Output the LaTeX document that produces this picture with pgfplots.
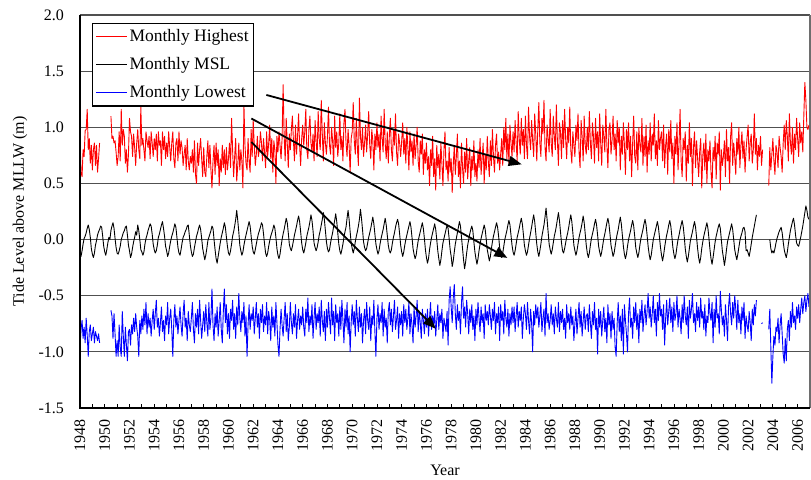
\documentclass[border=0pt]{standalone}
\usepackage{pgfplots}
\pgfplotsset{compat=1.18}
\usepackage{pgfplotstable}
\usepackage{fontspec}
\setmainfont{Liberation Serif}
\usetikzlibrary{arrows.meta}
\definecolor{gridgray}{RGB}{80,80,80}
\definecolor{framegray}{RGB}{110,110,110}

% Monthly highest (m), Jan 1948 - Dec 2006, one row per year
\pgfplotstableread[row sep=\\]{y\\%
0.90\\0.60\\0.56\\0.80\\0.74\\0.97\\0.98\\1.16\\0.80\\0.90\\0.68\\0.84\\%
0.62\\0.80\\0.86\\0.66\\0.84\\0.60\\0.72\\0.86\\nan\\nan\\nan\\nan\\%
nan\\nan\\nan\\nan\\nan\\nan\\1.10\\0.90\\0.92\\0.86\\0.88\\0.78\\%
0.66\\0.74\\0.96\\0.70\\1.16\\0.84\\0.98\\0.92\\0.68\\0.80\\0.60\\0.76\\%
1.08\\0.96\\0.92\\0.74\\0.94\\0.82\\0.66\\0.86\\0.98\\0.80\\0.72\\1.18\\%
0.84\\0.90\\0.80\\0.70\\0.96\\0.88\\0.82\\0.92\\0.72\\0.96\\0.86\\0.74\\%
0.90\\0.80\\0.94\\0.70\\0.96\\0.84\\0.88\\0.66\\0.96\\0.80\\0.92\\0.72\\%
0.86\\0.74\\0.96\\0.82\\0.70\\0.86\\0.96\\0.72\\0.64\\0.86\\0.90\\0.70\\%
0.96\\0.76\\0.88\\0.82\\0.66\\0.76\\0.84\\0.62\\0.90\\0.70\\0.62\\0.74\\%
0.68\\0.80\\0.60\\0.88\\0.58\\0.50\\0.86\\0.66\\0.80\\0.90\\0.72\\0.56\\%
0.82\\0.60\\0.56\\0.74\\0.88\\0.64\\0.84\\0.62\\0.46\\0.70\\0.84\\0.58\\%
0.86\\0.66\\0.80\\0.48\\0.72\\0.60\\0.84\\0.64\\0.80\\0.58\\0.82\\0.62\\%
0.72\\0.86\\0.64\\1.08\\0.80\\0.56\\0.74\\0.90\\0.52\\0.66\\0.86\\0.62\\%
0.80\\0.70\\0.46\\1.20\\0.84\\0.68\\0.62\\0.90\\0.70\\0.60\\0.98\\0.74\\%
1.06\\0.84\\0.66\\0.76\\0.92\\0.74\\0.80\\0.96\\0.86\\0.70\\0.90\\0.78\\%
0.64\\0.96\\0.74\\0.86\\1.02\\0.72\\0.90\\0.60\\0.88\\0.80\\0.50\\0.92\\%
0.78\\0.96\\0.84\\0.72\\0.90\\1.38\\0.92\\0.70\\1.08\\0.86\\0.64\\0.94\\%
0.80\\0.98\\1.10\\0.88\\0.70\\1.02\\0.76\\0.92\\1.12\\0.84\\0.66\\0.90\\%
1.02\\0.84\\0.96\\1.16\\0.80\\0.72\\0.98\\1.10\\0.86\\0.78\\0.94\\0.70\\%
1.06\\0.88\\0.74\\1.14\\0.90\\0.80\\1.24\\0.94\\0.70\\1.04\\0.86\\0.76\\%
0.92\\1.18\\0.84\\0.76\\1.00\\0.88\\0.66\\1.10\\0.82\\0.96\\0.74\\0.86\\%
1.12\\0.80\\0.92\\0.70\\1.04\\1.16\\0.86\\0.74\\0.98\\0.84\\0.60\\0.90\\%
0.96\\1.22\\0.88\\0.76\\1.08\\0.82\\0.66\\1.26\\0.92\\0.80\\1.00\\0.74\\%
0.86\\1.02\\0.78\\0.94\\1.14\\0.84\\0.72\\0.98\\0.88\\0.62\\0.94\\0.80\\%
1.04\\0.82\\0.94\\0.70\\1.10\\0.90\\0.78\\1.16\\0.86\\0.72\\0.96\\0.68\\%
0.92\\1.08\\0.80\\0.70\\0.98\\0.84\\1.12\\0.78\\0.66\\0.94\\0.86\\0.74\\%
0.88\\1.04\\0.76\\0.90\\0.68\\1.00\\0.82\\0.62\\0.96\\0.78\\0.88\\0.66\\%
0.94\\0.72\\0.84\\1.00\\0.70\\0.60\\0.88\\0.76\\0.94\\0.58\\0.80\\0.68\\%
0.86\\0.62\\0.74\\0.48\\0.80\\0.66\\0.92\\0.56\\0.72\\0.44\\0.84\\0.64\\%
0.76\\0.54\\0.86\\0.68\\0.48\\0.80\\0.96\\0.62\\0.70\\0.52\\0.82\\0.60\\%
0.72\\0.42\\0.66\\0.84\\0.58\\0.74\\0.94\\0.56\\0.70\\0.46\\0.86\\0.64\\%
0.50\\0.78\\0.60\\0.90\\0.54\\0.70\\0.82\\0.48\\0.74\\0.62\\0.88\\0.56\\%
0.68\\0.52\\0.80\\0.64\\0.90\\0.58\\0.72\\0.86\\0.50\\0.76\\0.62\\0.92\\%
0.70\\0.56\\0.88\\0.66\\0.98\\0.74\\0.60\\0.84\\0.94\\0.68\\0.78\\0.62\\%
0.76\\0.90\\0.66\\1.00\\0.80\\1.08\\0.72\\0.94\\0.68\\1.02\\0.86\\0.74\\%
0.96\\0.78\\1.06\\0.86\\0.70\\1.14\\0.90\\0.76\\1.08\\0.84\\0.98\\0.72\\%
1.10\\0.84\\0.72\\1.18\\0.92\\0.80\\1.06\\0.88\\0.74\\1.12\\0.94\\0.70\\%
0.98\\1.22\\0.86\\0.74\\1.08\\0.94\\1.24\\0.82\\0.70\\1.02\\0.90\\0.78\\%
1.16\\0.86\\0.74\\1.10\\0.92\\0.80\\1.20\\0.88\\0.66\\1.04\\0.96\\0.72\\%
1.06\\0.82\\1.16\\0.90\\0.72\\1.00\\0.86\\1.18\\0.80\\0.68\\0.96\\0.84\\%
0.74\\1.02\\0.88\\1.12\\0.78\\0.64\\1.06\\0.92\\0.70\\1.10\\0.84\\0.76\\%
1.00\\0.80\\1.14\\0.86\\0.72\\1.04\\0.92\\0.68\\1.08\\0.82\\0.96\\0.70\\%
1.12\\0.86\\0.66\\1.02\\0.92\\0.78\\1.16\\0.84\\0.64\\0.98\\1.04\\0.76\\%
0.88\\1.10\\0.80\\0.94\\0.70\\1.06\\0.86\\1.00\\0.62\\0.92\\0.76\\1.04\\%
0.84\\0.58\\0.98\\0.80\\1.04\\0.70\\0.92\\0.56\\0.86\\1.10\\0.74\\0.68\\%
0.96\\0.62\\1.00\\0.84\\0.78\\1.08\\0.66\\0.92\\0.74\\1.02\\0.60\\0.88\\%
0.76\\1.04\\0.70\\0.94\\0.84\\1.12\\0.72\\0.88\\0.66\\1.06\\0.80\\0.90\\%
0.96\\0.70\\1.02\\0.64\\0.84\\0.94\\0.58\\0.98\\0.78\\1.06\\0.72\\0.86\\%
0.50\\0.92\\0.76\\1.04\\0.62\\0.86\\1.16\\0.70\\0.56\\0.90\\0.80\\0.96\\%
0.52\\0.84\\0.68\\1.04\\0.74\\0.90\\0.48\\0.82\\0.96\\0.64\\0.88\\0.72\\%
0.56\\0.78\\0.90\\0.46\\0.74\\0.86\\0.62\\0.94\\0.50\\0.80\\0.70\\0.88\\%
0.60\\0.46\\0.82\\0.70\\0.92\\0.54\\0.86\\0.76\\0.96\\0.44\\0.80\\0.66\\%
0.74\\0.88\\0.56\\0.98\\0.70\\0.82\\0.50\\0.92\\1.04\\0.66\\0.86\\0.74\\%
0.58\\0.90\\0.76\\1.00\\0.64\\0.84\\0.96\\0.72\\0.88\\0.60\\0.80\\0.92\\%
1.02\\0.70\\0.86\\0.94\\0.68\\0.80\\1.12\\0.76\\0.90\\0.62\\0.84\\0.74\\%
0.92\\0.66\\0.80\\nan\\nan\\nan\\nan\\nan\\0.48\\0.82\\0.62\\0.76\\%
0.90\\0.70\\0.58\\0.84\\0.78\\0.64\\0.92\\0.82\\0.74\\0.60\\0.86\\1.02\\%
0.80\\1.06\\0.92\\0.70\\1.12\\0.86\\0.76\\1.00\\0.68\\0.94\\0.80\\1.08\\%
0.90\\0.74\\1.04\\0.86\\0.96\\0.78\\1.10\\1.40\\1.24\\1.00\\0.98\\1.02\\%
}\tabHigh

% Monthly mean sea level (m)
\pgfplotstableread[row sep=\\]{y\\%
-0.12\\-0.15\\-0.10\\-0.04\\0.01\\0.03\\0.06\\0.10\\0.13\\0.09\\0.02\\-0.08\\%
-0.13\\-0.16\\-0.12\\-0.05\\-0.01\\0.04\\0.07\\0.09\\0.12\\0.11\\0.03\\-0.06\\%
-0.11\\-0.14\\-0.09\\-0.03\\0.02\\0.00\\0.08\\0.12\\0.15\\0.10\\0.01\\-0.07\\%
-0.12\\-0.13\\-0.10\\-0.06\\0.00\\0.03\\0.06\\0.08\\0.11\\0.12\\0.04\\-0.05\\%
-0.10\\-0.16\\-0.13\\-0.07\\-0.02\\0.02\\0.07\\0.04\\0.13\\0.08\\0.00\\-0.09\\%
-0.11\\-0.14\\-0.11\\-0.04\\0.01\\0.04\\0.08\\0.11\\0.14\\0.12\\0.05\\-0.04\\%
-0.09\\-0.12\\-0.10\\-0.05\\0.02\\0.05\\0.09\\0.13\\0.16\\0.10\\0.03\\-0.06\\%
-0.10\\-0.15\\-0.12\\-0.06\\-0.01\\0.03\\0.06\\0.10\\0.14\\0.11\\0.02\\-0.07\\%
-0.12\\-0.14\\-0.09\\-0.03\\0.02\\0.04\\0.07\\0.09\\0.12\\0.13\\0.04\\-0.05\\%
-0.11\\-0.15\\-0.13\\-0.07\\-0.02\\0.03\\0.06\\0.10\\0.13\\0.09\\0.01\\-0.08\\%
-0.13\\-0.18\\-0.14\\-0.08\\-0.01\\0.02\\0.05\\0.08\\0.12\\0.10\\0.00\\-0.09\\%
-0.17\\-0.21\\-0.15\\-0.09\\-0.03\\0.02\\0.06\\0.10\\0.15\\0.11\\0.02\\-0.06\\%
-0.12\\-0.14\\-0.10\\-0.04\\0.03\\0.07\\0.12\\0.18\\0.26\\0.17\\0.07\\-0.05\\%
-0.10\\-0.14\\-0.11\\-0.05\\0.00\\0.04\\0.08\\0.12\\0.16\\0.12\\0.03\\-0.06\\%
-0.11\\-0.13\\-0.09\\-0.04\\0.01\\0.05\\0.08\\0.11\\0.15\\0.13\\0.05\\-0.04\\%
-0.12\\-0.15\\-0.12\\-0.06\\-0.01\\0.03\\0.06\\0.09\\0.13\\0.10\\0.02\\-0.08\\%
-0.14\\-0.17\\-0.13\\-0.06\\0.00\\0.05\\0.09\\0.14\\0.19\\0.15\\0.06\\-0.04\\%
-0.08\\-0.10\\-0.06\\-0.01\\0.04\\0.08\\0.12\\0.17\\0.21\\0.16\\0.07\\-0.03\\%
-0.09\\-0.12\\-0.08\\-0.03\\0.03\\0.07\\0.11\\0.16\\0.22\\0.17\\0.08\\-0.03\\%
-0.07\\-0.10\\-0.07\\-0.02\\0.04\\0.08\\0.13\\0.18\\0.24\\0.18\\0.08\\-0.02\\%
-0.08\\-0.11\\-0.09\\-0.03\\0.02\\0.06\\0.12\\0.17\\0.23\\0.16\\0.06\\-0.04\\%
-0.10\\-0.13\\-0.09\\-0.04\\0.02\\0.07\\0.11\\0.19\\0.26\\0.18\\0.07\\-0.03\\%
-0.08\\-0.12\\-0.08\\-0.02\\0.03\\0.07\\0.12\\0.18\\0.27\\0.19\\0.09\\-0.02\\%
-0.07\\-0.10\\-0.08\\-0.03\\0.02\\0.06\\0.10\\0.15\\0.20\\0.14\\0.05\\-0.04\\%
-0.09\\-0.13\\-0.10\\-0.04\\0.01\\0.05\\0.09\\0.14\\0.19\\0.13\\0.04\\-0.05\\%
-0.10\\-0.12\\-0.09\\-0.03\\0.02\\0.06\\0.11\\0.15\\0.18\\0.14\\0.05\\-0.05\\%
-0.11\\-0.15\\-0.11\\-0.05\\0.00\\0.04\\0.08\\0.12\\0.16\\0.11\\0.02\\-0.08\\%
-0.13\\-0.17\\-0.14\\-0.07\\-0.01\\0.03\\0.07\\0.11\\0.15\\0.10\\0.01\\-0.09\\%
-0.16\\-0.21\\-0.17\\-0.09\\-0.03\\0.02\\0.06\\0.10\\0.14\\0.09\\0.00\\-0.10\\%
-0.17\\-0.23\\-0.18\\-0.10\\-0.03\\0.01\\0.05\\0.09\\0.13\\0.10\\0.01\\-0.09\\%
-0.15\\-0.24\\-0.19\\-0.11\\-0.04\\0.01\\0.06\\0.11\\0.16\\0.12\\0.02\\-0.08\\%
-0.18\\-0.26\\-0.20\\-0.12\\-0.05\\0.00\\0.05\\0.09\\0.12\\0.08\\-0.02\\-0.11\\%
-0.17\\-0.22\\-0.17\\-0.10\\-0.04\\0.01\\0.05\\0.09\\0.13\\0.09\\0.00\\-0.09\\%
-0.14\\-0.19\\-0.15\\-0.08\\-0.02\\0.03\\0.07\\0.11\\0.15\\0.11\\0.03\\-0.07\\%
-0.12\\-0.16\\-0.12\\-0.06\\0.00\\0.04\\0.08\\0.13\\0.17\\0.13\\0.04\\-0.05\\%
-0.11\\-0.14\\-0.10\\-0.04\\0.02\\0.06\\0.10\\0.15\\0.19\\0.14\\0.05\\-0.05\\%
-0.10\\-0.14\\-0.11\\-0.05\\0.01\\0.06\\0.11\\0.17\\0.22\\0.16\\0.06\\-0.04\\%
-0.11\\-0.15\\-0.10\\-0.04\\0.03\\0.08\\0.13\\0.20\\0.28\\0.18\\0.07\\-0.04\\%
-0.09\\-0.13\\-0.09\\-0.03\\0.03\\0.07\\0.12\\0.18\\0.24\\0.17\\0.07\\-0.03\\%
-0.10\\-0.12\\-0.08\\-0.03\\0.02\\0.06\\0.11\\0.17\\0.22\\0.16\\0.06\\-0.05\\%
-0.10\\-0.14\\-0.10\\-0.04\\0.02\\0.06\\0.10\\0.15\\0.21\\0.15\\0.05\\-0.05\\%
-0.12\\-0.16\\-0.12\\-0.05\\0.01\\0.05\\0.09\\0.14\\0.18\\0.13\\0.04\\-0.06\\%
-0.11\\-0.15\\-0.11\\-0.05\\0.01\\0.05\\0.10\\0.15\\0.19\\0.14\\0.05\\-0.05\\%
-0.10\\-0.15\\-0.12\\-0.06\\0.00\\0.05\\0.09\\0.15\\0.20\\0.14\\0.04\\-0.06\\%
-0.13\\-0.17\\-0.13\\-0.06\\0.00\\0.04\\0.08\\0.13\\0.17\\0.12\\0.03\\-0.07\\%
-0.12\\-0.16\\-0.12\\-0.05\\0.01\\0.05\\0.09\\0.14\\0.18\\0.13\\0.04\\-0.06\\%
-0.13\\-0.18\\-0.14\\-0.07\\0.00\\0.04\\0.08\\0.12\\0.16\\0.11\\0.02\\-0.07\\%
-0.14\\-0.19\\-0.14\\-0.07\\-0.01\\0.04\\0.08\\0.13\\0.17\\0.12\\0.03\\-0.07\\%
-0.13\\-0.17\\-0.13\\-0.06\\0.00\\0.04\\0.09\\0.13\\0.17\\0.12\\0.03\\-0.08\\%
-0.15\\-0.20\\-0.15\\-0.08\\-0.01\\0.03\\0.07\\0.12\\0.16\\0.11\\0.02\\-0.08\\%
-0.16\\-0.21\\-0.16\\-0.08\\-0.02\\0.03\\0.07\\0.11\\0.15\\0.10\\0.01\\-0.09\\%
-0.17\\-0.22\\-0.16\\-0.09\\-0.02\\0.03\\0.07\\0.11\\0.14\\0.10\\0.00\\-0.10\\%
-0.16\\-0.23\\-0.17\\-0.09\\-0.02\\0.02\\0.06\\0.10\\0.14\\0.09\\0.00\\-0.09\\%
-0.14\\-0.18\\-0.13\\-0.07\\-0.01\\0.03\\0.06\\0.10\\0.11\\0.07\\-0.10\\-0.09\\%
-0.12\\-0.15\\-0.10\\-0.04\\0.02\\0.07\\0.12\\0.17\\0.22\\nan\\nan\\nan\\%
nan\\nan\\nan\\nan\\nan\\nan\\nan\\nan\\nan\\0.00\\-0.08\\-0.12\\%
-0.10\\-0.12\\-0.08\\-0.03\\0.01\\0.04\\0.07\\0.09\\0.11\\0.06\\-0.02\\-0.09\\%
-0.13\\-0.16\\-0.11\\-0.04\\0.02\\0.08\\0.12\\0.16\\0.19\\0.13\\0.04\\-0.03\\%
-0.05\\-0.06\\-0.02\\0.02\\0.07\\0.12\\0.18\\0.24\\0.30\\0.26\\0.20\\0.18\\%
}\tabMSL

% Monthly lowest (m)
\pgfplotstableread[row sep=\\]{y\\%
-0.95\\-0.80\\-0.72\\-0.88\\-0.78\\-0.92\\-0.70\\-0.85\\-1.04\\-0.82\\-0.76\\-0.90\\%
-0.84\\-0.78\\-0.92\\-0.82\\-0.86\\-0.90\\-0.84\\-0.92\\nan\\nan\\nan\\nan\\%
nan\\nan\\nan\\nan\\nan\\nan\\-0.63\\-0.68\\-0.88\\-0.66\\-0.84\\-1.04\\%
-0.90\\-1.04\\-0.76\\-0.96\\-1.04\\-0.64\\-0.86\\-1.04\\-0.78\\-0.94\\-1.08\\-0.82\\%
-0.80\\-0.94\\-0.76\\-0.84\\-0.70\\-0.82\\-0.66\\-0.78\\-0.86\\-1.04\\-0.72\\-0.84\\%
-0.68\\-0.80\\-0.62\\-0.76\\-0.56\\-0.84\\-0.66\\-0.78\\-0.70\\-0.86\\-0.72\\-0.62\\%
-0.80\\-0.66\\-0.54\\-0.78\\-0.70\\-0.86\\-0.74\\-0.60\\-0.82\\-0.72\\-0.90\\-0.68\\%
-0.76\\-0.56\\-0.84\\-0.70\\-0.62\\-0.80\\-1.04\\-0.72\\-0.58\\-0.78\\-0.68\\-0.84\\%
-0.72\\-0.60\\-0.76\\-0.86\\-0.66\\-0.54\\-0.78\\-0.70\\-0.90\\-0.64\\-0.76\\-0.82\\%
-0.70\\-0.56\\-0.80\\-0.92\\-0.66\\-0.78\\-0.62\\-0.84\\-0.54\\-0.72\\-0.88\\-0.76\\%
-0.64\\-0.82\\-0.58\\-0.74\\-0.86\\-0.56\\-0.80\\-0.70\\-0.44\\-0.76\\-0.90\\-0.66\\%
-0.78\\-0.60\\-0.86\\-0.72\\-0.56\\-0.80\\-0.92\\-0.64\\-0.44\\-0.74\\-0.58\\-0.84\\%
-0.66\\-0.88\\-0.62\\-0.72\\-0.54\\-0.80\\-0.66\\-0.88\\-0.60\\-0.76\\-0.48\\-0.70\\%
-0.82\\-0.64\\-0.74\\-0.56\\-0.86\\-0.68\\-1.04\\-0.76\\-0.58\\-0.80\\-0.66\\-0.72\\%
-0.60\\-0.84\\-0.70\\-0.56\\-0.78\\-0.66\\-0.88\\-0.62\\-0.74\\-0.58\\-0.82\\-0.68\\%
-0.76\\-0.56\\-0.84\\-0.64\\-0.72\\-0.90\\-0.60\\-0.78\\-0.68\\-0.86\\-0.56\\-0.74\\%
-0.94\\-1.04\\-0.80\\-0.62\\-0.76\\-0.86\\-0.70\\-0.56\\-0.82\\-0.66\\-0.90\\-0.78\\%
-0.56\\-0.74\\-0.84\\-0.66\\-0.78\\-0.58\\-0.88\\-0.72\\-0.62\\-0.80\\-0.68\\-0.76\\%
-0.60\\-0.78\\-0.86\\-0.62\\-0.74\\-0.52\\-0.82\\-0.68\\-0.76\\-0.58\\-0.88\\-0.70\\%
-0.56\\-0.80\\-0.66\\-0.74\\-0.60\\-0.86\\-0.54\\-0.72\\-0.82\\-0.64\\-0.90\\-0.62\\%
-0.78\\-0.56\\-0.70\\-0.84\\-0.52\\-0.76\\-0.64\\-0.90\\-0.58\\-0.74\\-0.66\\-0.86\\%
-0.60\\-0.80\\-0.54\\-0.72\\-0.92\\-0.62\\-0.78\\-0.56\\-0.84\\-0.68\\-1.00\\-0.74\\%
-0.58\\-0.76\\-0.64\\-0.86\\-0.54\\-0.70\\-0.82\\-0.60\\-0.78\\-0.66\\-0.92\\-0.72\\%
-0.62\\-0.84\\-0.56\\-0.72\\-0.80\\-0.60\\-0.90\\-0.68\\-0.76\\-0.54\\-0.82\\-1.04\\%
-0.70\\-0.58\\-0.80\\-0.66\\-0.74\\-0.56\\-0.86\\-0.62\\-0.78\\-0.70\\-0.92\\-0.64\\%
-0.56\\-0.76\\-0.62\\-0.82\\-0.68\\-0.54\\-0.80\\-0.72\\-0.60\\-0.88\\-0.66\\-0.76\\%
-0.64\\-0.86\\-0.58\\-0.74\\-0.62\\-0.80\\-0.70\\-0.56\\-0.84\\-0.66\\-0.76\\-0.92\\%
-0.60\\-0.78\\-0.68\\-0.54\\-0.82\\-0.64\\-0.74\\-0.88\\-0.62\\-0.72\\-0.84\\-0.66\\%
-0.78\\-0.62\\-0.86\\-0.70\\-0.56\\-0.80\\-0.68\\-0.76\\-0.64\\-0.86\\-0.72\\-0.58\\%
-0.80\\-0.66\\-0.74\\-0.62\\-0.88\\-0.70\\-0.76\\-0.82\\-0.64\\-0.94\\-0.54\\-0.42\\%
-0.60\\-0.74\\-0.52\\-0.40\\-0.66\\-0.80\\-0.58\\-0.72\\-0.64\\-0.84\\-0.56\\-0.42\\%
-0.70\\-0.60\\-0.78\\-0.54\\-0.66\\-0.84\\-0.62\\-0.74\\-0.58\\-0.80\\-0.68\\-0.90\\%
-0.62\\-0.76\\-0.56\\-0.70\\-0.82\\-0.60\\-0.74\\-0.66\\-0.88\\-0.58\\-0.72\\-0.64\\%
-0.76\\-0.58\\-0.68\\-0.80\\-0.62\\-0.72\\-0.56\\-0.84\\-0.66\\-0.74\\-0.60\\-0.90\\%
-0.58\\-0.72\\-0.64\\-0.84\\-0.54\\-0.70\\-0.78\\-0.62\\-0.86\\-0.66\\-0.76\\-0.60\\%
-0.74\\-0.60\\-0.82\\-0.68\\-0.56\\-0.78\\-0.64\\-0.72\\-0.60\\-0.88\\-0.70\\-0.58\\%
-0.66\\-0.80\\-0.56\\-0.72\\-0.84\\-0.62\\-0.74\\-1.00\\-0.64\\-0.76\\-0.58\\-0.70\\%
-0.60\\-0.78\\-0.68\\-0.56\\-0.82\\-0.70\\-0.62\\-0.86\\-0.48\\-0.74\\-0.66\\-0.80\\%
-0.72\\-0.58\\-0.76\\-0.66\\-0.84\\-0.60\\-0.70\\-0.78\\-0.56\\-0.82\\-0.64\\-0.74\\%
-0.62\\-0.80\\-0.70\\-0.88\\-0.58\\-0.74\\-0.66\\-0.80\\-0.60\\-0.76\\-0.68\\-0.90\\%
-0.74\\-0.62\\-0.84\\-0.70\\-0.56\\-0.78\\-0.64\\-0.86\\-0.72\\-0.60\\-0.80\\-0.68\\%
-0.66\\-0.82\\-0.58\\-0.74\\-0.88\\-0.64\\-0.76\\-0.56\\-0.80\\-0.70\\-1.02\\-0.62\\%
-0.78\\-0.64\\-0.86\\-0.72\\-0.60\\-0.82\\-0.70\\-0.92\\-0.58\\-0.76\\-0.66\\-0.88\\%
-0.64\\-0.80\\-0.70\\-0.96\\-1.04\\-0.74\\-0.56\\-0.82\\-0.68\\-0.90\\-0.62\\-1.02\\%
-0.58\\-0.72\\-0.84\\-1.00\\-0.66\\-0.52\\-0.78\\-0.70\\-0.88\\-0.60\\-0.74\\-0.56\\%
-0.80\\-0.66\\-0.92\\-0.62\\-0.74\\-0.54\\-0.82\\-0.68\\-0.58\\-0.76\\-0.64\\-0.48\\%
-0.70\\-0.60\\-0.78\\-0.66\\-0.50\\-0.74\\-0.62\\-0.86\\-0.56\\-0.72\\-0.48\\-0.68\\%
-0.62\\-0.80\\-0.58\\-0.94\\-0.70\\-0.54\\-0.76\\-0.64\\-0.52\\-0.74\\-0.60\\-0.82\\%
-0.56\\-0.72\\-0.66\\-0.50\\-0.78\\-0.62\\-0.70\\-0.84\\-0.58\\-0.74\\-0.50\\-0.68\\%
-0.76\\-0.60\\-0.88\\-0.54\\-0.70\\-0.62\\-0.48\\-0.74\\-0.66\\-0.82\\-0.56\\-0.72\\%
-0.60\\-0.78\\-0.52\\-0.70\\-0.64\\-0.80\\-0.58\\-0.86\\-0.68\\-0.74\\-0.52\\-0.66\\%
-0.72\\-0.56\\-0.92\\-0.62\\-0.78\\-0.50\\-0.70\\-0.66\\-0.84\\-0.46\\-0.62\\-0.76\\%
-0.68\\-0.86\\-0.58\\-0.72\\-0.90\\-0.60\\-0.48\\-0.66\\-0.76\\-0.56\\-0.70\\-0.50\\%
-0.62\\-0.80\\-0.54\\-0.74\\-0.66\\-0.84\\-0.60\\-0.72\\-0.56\\-0.88\\-0.68\\-0.76\\%
-0.82\\-0.64\\-0.74\\-0.90\\-0.62\\-0.76\\-0.58\\-0.68\\-0.54\\nan\\nan\\nan\\%
nan\\-0.75\\-0.74\\nan\\nan\\nan\\nan\\nan\\-0.80\\-0.62\\-0.96\\-1.28\\%
-1.04\\-0.86\\-0.94\\-0.78\\-0.82\\-0.70\\-0.92\\-0.76\\-0.66\\-0.84\\-1.02\\-1.10\\%
-0.88\\-1.08\\-0.80\\-0.72\\-0.90\\-0.64\\-0.78\\-0.56\\-0.74\\-0.68\\-0.80\\-0.60\\%
-0.70\\-0.58\\-0.74\\-0.62\\-0.52\\-0.66\\-0.56\\-0.50\\-0.64\\-0.54\\-0.48\\-0.60\\%
}\tabLow

\begin{document}
\begin{tikzpicture}
\begin{axis}[
  scale only axis,
  width=730pt, height=393pt,
  xmin=1948, xmax=2007,
  ymin=-1.5, ymax=2.0,
  axis line style={draw=none},
  unbounded coords=jump,
  xtick={1948,1950,1952,1954,1956,1958,1960,1962,1964,1966,1968,1970,1972,1974,1976,1978,1980,1982,1984,1986,1988,1990,1992,1994,1996,1998,2000,2002,2004,2006},
  xticklabels={1948,1950,1952,1954,1956,1958,1960,1962,1964,1966,1968,1970,1972,1974,1976,1978,1980,1982,1984,1986,1988,1990,1992,1994,1996,1998,2000,2002,2004,2006},
  minor xtick={1949,1951,1953,1955,1957,1959,1961,1963,1965,1967,1969,1971,1973,1975,1977,1979,1981,1983,1985,1987,1989,1991,1993,1995,1997,1999,2001,2003,2005,2007},
  xtick pos=bottom,
  tick align=inside,
  major tick length=4pt, minor tick length=4pt,
  xtick style={black, line width=0.8pt},
  minor x tick style={black, line width=0.8pt},
  ytick={-1.5,-1.0,-0.5,0.0,0.5,1.0,1.5,2.0},
  yticklabels={-1.5,-1.0,-0.5,0.0,0.5,1.0,1.5,2.0},
  ytick style={draw=none},
  ymajorgrids,
  major grid style={line width=1.2pt, color=gridgray},
  ticklabel style={font=\fontsize{16}{19}\selectfont},
  xticklabel style={rotate=90, anchor=east, xshift=-8pt},
  yticklabel style={xshift=-12.5pt},
  xlabel={Year},
  ylabel={Tide Level above MLLW (m)},
  label style={font=\fontsize{16}{19}\selectfont},
  xlabel style={at={(axis description cs:0.5,0)}, anchor=center, yshift=-62pt},
  ylabel style={at={(axis description cs:0,0.5)}, anchor=center, yshift=60pt},
  legend style={at={(rel axis cs:0,1)}, anchor=north west, xshift=12pt, yshift=-8pt,
    draw=black, line width=1.3pt, fill=white,
    font=\fontsize{17.5}{20}\selectfont,
    inner xsep=3pt, inner ysep=3pt, row sep=7.5pt,
    nodes={inner sep=2pt, text height=12.5pt, text depth=4pt}},
  legend cell align=left,
  legend image code/.code={\draw[#1] (0pt,0pt) -- (31pt,0pt);},
]
\addplot[red, line width=0.9pt, no markers, line join=round] table[x expr=1948+\coordindex/12, y=y] {\tabHigh};
\addlegendentry{Monthly Highest}
\addplot[black, line width=0.9pt, no markers, line join=round] table[x expr=1948+\coordindex/12, y=y] {\tabMSL};
\addlegendentry{Monthly MSL}
\addplot[blue, line width=0.9pt, no markers, line join=round] table[x expr=1948+\coordindex/12, y=y] {\tabLow};
\addlegendentry{Monthly Lowest}

\draw[line width=1.8pt, -{Triangle[length=13pt,width=10pt]}] (axis cs:1963.06,1.288) -- (axis cs:1983.7,0.67);
\draw[line width=1.8pt, -{Triangle[length=13pt,width=10pt]}] (axis cs:1961.85,1.078) -- (axis cs:1982.54,-0.163);
\draw[line width=1.8pt, -{Triangle[length=13pt,width=10pt]}] (axis cs:1961.85,0.869) -- (axis cs:1976.76,-0.795);

\coordinate (ll) at (rel axis cs:0,0);
\coordinate (ur) at (rel axis cs:1,1);
\coordinate (ul) at (rel axis cs:0,1);
\coordinate (lr) at (rel axis cs:1,0);
\end{axis}
\draw[framegray, line width=1.2pt] (lr) -- (ur);
\draw[black, line width=1.8pt] (ul) -- (ll) -- (lr);
\pgfresetboundingbox
\path ([shift={(-80pt,-72pt)}]ll) rectangle ([shift={(1pt,15pt)}]ur);
\end{tikzpicture}
\end{document}
